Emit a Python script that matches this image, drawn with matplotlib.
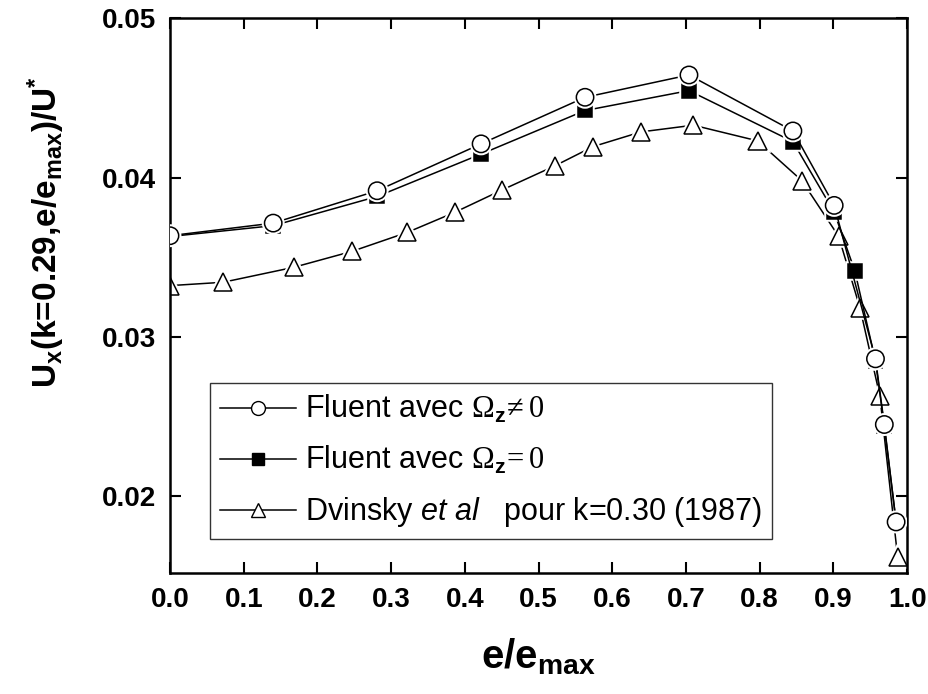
import matplotlib
matplotlib.use('Agg')
import matplotlib.pyplot as plt
import matplotlib.patheffects as pe

plt.rcParams['font.family'] = ['Liberation Sans', 'DejaVu Sans']
plt.rcParams['mathtext.fontset'] = 'custom'
plt.rcParams['mathtext.rm'] = 'Liberation Serif'
plt.rcParams['mathtext.it'] = 'Liberation Sans:italic'
plt.rcParams['mathtext.bf'] = 'Liberation Sans:bold'

# Fluent avec Omega_z != 0
x_omega = [0.0, 0.140, 0.281, 0.422, 0.563, 0.704, 0.845, 0.901, 0.957, 0.969, 0.985]
u_omega = [0.03635, 0.03714, 0.03917, 0.04211, 0.04503, 0.04643, 0.04292, 0.03825,
           0.02863, 0.02451, 0.01840]

# Fluent avec Omega_z = 0
x_zero = [0.0, 0.140, 0.281, 0.422, 0.563, 0.704, 0.845, 0.901, 0.929, 0.957, 0.969, 0.985]
u_zero = [0.03630, 0.03698, 0.03881, 0.04147, 0.04420, 0.04545, 0.04225, 0.03783,
          0.03414, 0.02850, 0.02440, 0.01840]

# Dvinsky et al, k=0.30 (1987)
x_dv = [0.0, 0.072, 0.168, 0.247, 0.322, 0.386, 0.451, 0.522, 0.574, 0.639, 0.710,
        0.797, 0.857, 0.907, 0.936, 0.963, 0.987]
u_dv = [0.03322, 0.03343, 0.03437, 0.03537, 0.03656, 0.03781, 0.03923, 0.04073,
        0.04194, 0.04286, 0.04328, 0.04230, 0.03981, 0.03631, 0.03182, 0.02629, 0.01623]

labels = [r'Fluent avec $\Omega_{\mathbf{z}}\!\neq0$',
          r'Fluent avec $\Omega_{\mathbf{z}}\!=0$',
          r'Dvinsky $\mathit{et\ al}$   pour k=0.30 (1987)']

fig = plt.figure(figsize=(9.29, 6.94), dpi=100)
ax = fig.add_axes([0.183, 0.1744, 0.7935, 0.7996])

halo = [pe.Stroke(linewidth=4, foreground='white'), pe.Normal()]

series = [
    (x_dv, u_dv, dict(marker='^', ms=13, mfc='white'), 2),
    (x_zero, u_zero, dict(marker='s', ms=10, mfc='black'), 3),
    (x_omega, u_omega, dict(marker='o', ms=12.5, mfc='white'), 4),
]
for xs, ys, mk, z in series:
    ax.plot(xs, ys, color='black', lw=1.1, zorder=z)
    ax.plot(xs, ys, ls='none', mec='black', mew=1.1, zorder=z + 0.5,
            path_effects=halo, **mk)

# legend proxies
h1, = ax.plot([], [], color='black', lw=1.1, marker='o', ms=10, mfc='white', mec='black')
h2, = ax.plot([], [], color='black', lw=1.1, marker='s', ms=8, mfc='black', mec='black')
h3, = ax.plot([], [], color='black', lw=1.1, marker='^', ms=10, mfc='white', mec='black')
leg = ax.legend([h1, h2, h3], labels, loc='lower left', bbox_to_anchor=(0.054, 0.061),
                borderaxespad=0, fontsize=22, frameon=True, fancybox=False,
                edgecolor='black', handlelength=2.5, handletextpad=0.3,
                labelspacing=0.62, borderpad=0.32)
leg.get_frame().set_linewidth(1.0)

ax.set_xlim(0, 1.0)
ax.set_ylim(0.0152, 0.05)
ax.set_xticks([0.0, 0.1, 0.2, 0.3, 0.4, 0.5, 0.6, 0.7, 0.8, 0.9, 1.0])
ax.set_yticks([0.02, 0.03, 0.04, 0.05])
ax.tick_params(direction='in', top=True, right=True, length=8, width=1.5,
               labelsize=20, pad=10)
ax.tick_params(axis='y', pad=10)
for lab in ax.get_xticklabels() + ax.get_yticklabels():
    lab.set_fontweight('bold')
for sp in ax.spines.values():
    sp.set_linewidth(1.8)

ax.set_xlabel(r'e/e$_{\mathbf{max}}$', fontsize=29, fontweight='bold')
ax.xaxis.set_label_coords(0.5, -0.115)
ax.set_ylabel(r'U$_{\mathbf{x}}$(k=0.29,e/e$_{\mathbf{max}}$)/U$^{\mathbf{*}}$',
              fontsize=24, fontweight='bold')
ax.yaxis.set_label_coords(-0.14, 0.615)

fig.savefig('out.png', dpi=100)
